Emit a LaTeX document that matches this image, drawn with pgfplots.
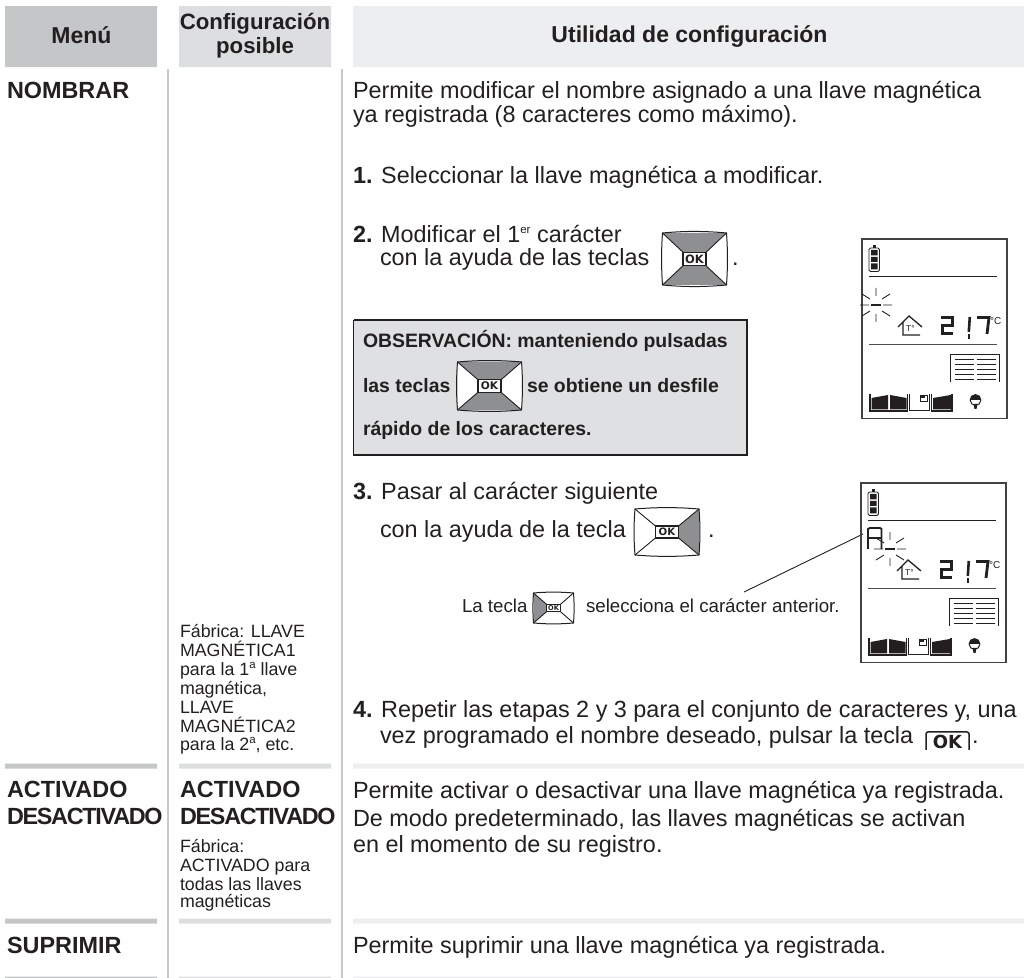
\documentclass[border=0pt]{standalone}
\usepackage{pgfplots}
\pgfplotsset{compat=1.18}
\usepackage{fontspec}
\setmainfont{Liberation Sans}
\newfontfamily\okf{DejaVu Sans}
\newfontfamily\tightf[LetterSpace=-5.5]{Liberation Sans}
\definecolor{ink}{HTML}{231F20}
\definecolor{hA}{HTML}{C4C6C8}
\definecolor{hB}{HTML}{DCDEE0}
\definecolor{hC}{HTML}{EDEEEF}
\definecolor{vl}{HTML}{C8C9CA}
\definecolor{boxg}{HTML}{DFE0E2}
\definecolor{kg}{HTML}{8D8F91}
\newcommand\TL[3]{\node[anchor=base west,inner sep=0pt,outer sep=0pt,text=ink] at (axis cs:#1,#2) {#3};}
\newcommand\TC[3]{\node[anchor=base,inner sep=0pt,outer sep=0pt,text=ink] at (axis cs:#1,#2) {#3};}
\newcommand\Rect[5]{\addplot[draw=none,fill=#5,forget plot,no markers] coordinates {(#1,#2) (#3,#2) (#3,#4) (#1,#4) (#1,#2)};}
\newcommand\Body{\fontsize{23.4}{26}\selectfont}
\newcommand\Bold{\fontsize{23.4}{26}\selectfont\bfseries}
\newcommand\BoldT{\tightf\fontsize{23.4}{26}\selectfont\bfseries}
\newcommand\Hd{\fontsize{22.2}{24}\selectfont\bfseries}
\newcommand\HdU{\fontsize{23}{24}\selectfont\bfseries}
\newcommand\Sm{\fontsize{17.8}{20}\selectfont}
\newcommand\Ob{\fontsize{19.4}{20}\selectfont\bfseries}
\newcommand\Note{\fontsize{18.7}{20}\selectfont}
\newcommand\Sup[1]{\raisebox{0.36em}{\fontsize{11.5}{12}\selectfont #1}}
\newcommand\Key[5]{%
\begin{scope}[shift={(#1pt,{(978-#2)*1pt})},yscale=-1,x=1pt,y=1pt,line join=round]
 \pgfmathsetmacro\hw{#3}\pgfmathsetmacro\hh{#4}
 \pgfmathsetmacro\bw{\hw*0.36}\pgfmathsetmacro\bh{\hh*0.26}
 \pgfmathsetmacro\fs{\bh*1.7}
 \fill[white] (-\hw,-\hh) rectangle (\hw,\hh);
 #5
 \draw[ink,line width=1pt] (-\hw,-\hh) .. controls (-\hw*.3,-\hh*1.08) and (\hw*.3,-\hh*1.08) .. (\hw,-\hh)
   .. controls (\hw*1.04,-\hh*.3) and (\hw*1.04,\hh*.3) .. (\hw,\hh)
   .. controls (\hw*.3,\hh*1.08) and (-\hw*.3,\hh*1.08) .. (-\hw,\hh)
   .. controls (-\hw*1.04,\hh*.3) and (-\hw*1.04,-\hh*.3) .. cycle;
 \draw[ink,line width=.9pt] (-\hw,-\hh)--(-\bw,-\bh) (\hw,-\hh)--(\bw,-\bh) (-\hw,\hh)--(-\bw,\bh) (\hw,\hh)--(\bw,\bh);
 \fill[white,draw=ink,line width=1.1pt] (-\bw,-\bh) rectangle (\bw,\bh);
 \node[inner sep=0,text=ink] at (0,0) {\okf\fontsize{\fs}{\fs}\selectfont\bfseries OK};
\end{scope}}
\newcommand\WedgeUD{\fill[kg] (-\hw,-\hh)--(\hw,-\hh)--(\bw,-\bh)--(-\bw,-\bh)--cycle (-\hw,\hh)--(\hw,\hh)--(\bw,\bh)--(-\bw,\bh)--cycle;}
\newcommand\WedgeR{\fill[kg] (\hw,-\hh)--(\hw,\hh)--(\bw,\bh)--(\bw,-\bh)--cycle;}
\newcommand\WedgeL{\fill[kg] (-\hw,-\hh)--(-\hw,\hh)--(-\bw,\bh)--(-\bw,-\bh)--cycle;}
\newcommand\LCD[3]{%
\begin{scope}[shift={(#1pt,{(978-#2)*1pt})},yscale=-1,x=1pt,y=1pt,line join=miter]
 \draw[ink!85,line width=1.3pt] (0,0) rectangle (145,179.5);
 \draw[ink,line width=.8pt,rounded corners=1.5pt] (7,9) rectangle (17.5,32.5);
 \fill[ink] (9,11) rectangle (15.5,16.5) (9,18) rectangle (15.5,23) (9,24.5) rectangle (15.5,30.5);
 \fill[ink] (11,6) rectangle (13.5,9);
 \draw[ink,line width=.9pt] (7,37.5)--(135,37.5);
 \draw[ink!80,line width=.9pt] (7,105)--(135,105);
 \draw[ink,line width=1.3pt] (36,88)--(47,77)--(60,88) (41,83)--(41,96)--(58,96);
 \node[inner sep=0,text=ink] at (48.5,90) {\fontsize{8.5}{8.5}\selectfont T°};
 \draw[ink,line width=3pt] (79,78.5)--(90,78.5)--(90,86.5)--(80.5,86.5)--(80.5,94.5)--(91,94.5);
 \draw[ink,line width=2.6pt] (107.8,78)--(106.8,93);
 \fill[ink] (105.5,95.5) rectangle (108,100);
 \draw[ink,line width=2.8pt] (115,78.5)--(127,78.5)--(125,95);
 \node[anchor=west,inner sep=0,text=ink] at (128,82) {\fontsize{10}{10}\selectfont °C};
 \draw[ink,line width=1.5pt] (88.5,143)--(88.5,115.5)--(137.5,115.5)--(137.5,143);
 \foreach \yy in {121,126,131,136,141}{\draw[ink,line width=1pt] (92.5,\yy)--(112,\yy) (114.5,\yy)--(134,\yy);}
 \draw[ink,line width=1.2pt] (8,155)--(8,172)--(45.5,172)--(45.5,155);
 \fill[ink] (9.5,159)--(26,156)--(26,170.5)--(9.5,170.5)--cycle (28,156)--(44.5,159)--(44.5,170.5)--(28,170.5)--cycle;
 \draw[ink,line width=1pt] (47.5,155)--(47.5,172)--(67.5,172)--(67.5,155);
 \draw[ink,line width=.7pt] (58,156.5) rectangle (65,162);
 \fill[ink] (59,157) rectangle (63,159.5);
 \draw[ink,line width=1.2pt] (69.5,155)--(69.5,172)--(90,172)--(90,155);
 \fill[ink] (71,159)--(89,156)--(89,170.5)--(71,170.5)--cycle;
 \draw[ink,line width=1pt,fill=white] (113.5,161) circle (5.4);
 \fill[ink] (108.1,161) arc (180:360:5.4) -- cycle;
 \fill[ink] (111.5,165)--(115.5,165)--(114.5,170)--(112.5,170)--cycle;
 #3
\end{scope}}
\newcommand\Flash[2]{%
 \draw[ink,line width=2.4pt] (#1-5,#2)--(#1+5,#2);
 \draw[ink,line width=.9pt] (#1-16,#2)--(#1-7,#2) (#1+7,#2)--(#1+16,#2)
   (#1,#2-17)--(#1,#2-9) (#1,#2+9)--(#1,#2+17)
   (#1-14,#2-11)--(#1-6,#2-6) (#1+14,#2-11)--(#1+6,#2-6)
   (#1-14,#2+11)--(#1-6,#2+6) (#1+14,#2+11)--(#1+6,#2+6);}
\begin{document}
\begin{tikzpicture}
\useasboundingbox (0,0) rectangle (1029pt,978pt);
\begin{axis}[at={(0,0)},anchor=south west,scale only axis,width=1029pt,height=978pt,
  xmin=0,xmax=1029,ymin=0,ymax=978,y dir=reverse,hide axis,clip=false]
\Rect{5}{6}{157}{67}{hA}
\Rect{179}{6}{331}{67}{hB}
\Rect{353}{6}{1024}{67}{hC}
\Rect{5}{763.5}{157}{768.5}{hA}
\Rect{179}{763.5}{331}{768.5}{hB}
\Rect{353}{763.5}{1024}{768.5}{hC}
\Rect{5}{918.5}{157}{923.5}{hA}
\Rect{179}{918.5}{331}{923.5}{hB}
\Rect{353}{918.5}{1024}{923.5}{hC}
\Rect{5}{976.5}{157}{978}{hA}
\Rect{179}{976.5}{331}{978}{hB}
\Rect{353}{976.5}{1024}{978}{hC}
\addplot[vl,line width=1.4pt,forget plot,no markers] coordinates {(168,69) (168,978)};
\addplot[vl,line width=1.4pt,forget plot,no markers] coordinates {(342,69) (342,978)};
\addplot[draw=ink,line width=1.6pt,fill=boxg,forget plot,no markers] coordinates {(353.5,320) (747,320) (747,455) (353.5,455) (353.5,320)};
\addplot[ink,line width=.9pt,forget plot,no markers] coordinates {(744,592) (863,534)};
\TC{81.5}{43}{\HdU Menú}
\TC{255}{29}{\Hd Configuración}
\TC{255}{53}{\Hd posible}
\TC{689.5}{42}{\HdU Utilidad de configuración}
\TL{7}{98}{\Bold NOMBRAR}
\TL{7}{797}{\Bold ACTIVADO}
\TL{7}{824}{\BoldT DESACTIVADO}
\TL{7}{953}{\Bold SUPRIMIR}
\TL{180}{637}{\Sm Fábrica: LLAVE}
\TL{180}{656}{\Sm MAGNÉTICA1}
\TL{180}{675}{\Sm para la 1\Sup{a} llave}
\TL{180}{694}{\Sm magnética,}
\TL{180}{713}{\Sm LLAVE}
\TL{180}{732}{\Sm MAGNÉTICA2}
\TL{180}{750}{\Sm para la 2\Sup{a}, etc.}
\TL{180}{797}{\Bold ACTIVADO}
\TL{180}{824}{\BoldT DESACTIVADO}
\TL{180}{852}{\Sm Fábrica:}
\TL{180}{871}{\Sm ACTIVADO para}
\TL{180}{890}{\Sm todas las llaves}
\TL{180}{907}{\Sm magnéticas}
\TL{353}{98}{\Body Permite modificar el nombre asignado a una llave magnética}
\TL{353}{122}{\Body ya registrada (8 caracteres como máximo).}
\TL{353}{183}{\Body\textbf{1.} Seleccionar la llave magnética a modificar.}
\TL{353}{242}{\Body\textbf{2.} Modificar el 1\Sup{er} carácter}
\TL{380}{265}{\Body con la ayuda de las teclas}
\TL{732}{265}{\Body .}
\TL{363}{347}{\Ob OBSERVACIÓN: manteniendo pulsadas}
\TL{363}{392}{\Ob las teclas}
\TL{527}{392}{\Ob se obtiene un desfile}
\TL{363}{435}{\Ob rápido de los caracteres.}
\TL{353}{499}{\Body\textbf{3.} Pasar al carácter siguiente}
\TL{380}{537}{\Body con la ayuda de la tecla}
\TL{708}{537}{\Body .}
\TL{462}{612}{\Note La tecla}
\TL{586}{612}{\Note selecciona el carácter anterior.}
\TL{353}{717}{\Body\textbf{4.} Repetir las etapas 2 y 3 para el conjunto de caracteres y, una}
\TL{380}{743}{\Body vez programado el nombre deseado, pulsar la tecla}
\TL{972}{743}{\Body .}
\TL{353}{798}{\Body Permite activar o desactivar una llave magnética ya registrada.}
\TL{353}{826}{\Body De modo predeterminado, las llaves magnéticas se activan}
\TL{353}{852}{\Body en el momento de su registro.}
\TL{353}{953}{\Body Permite suprimir una llave magnética ya registrada.}
\end{axis}
\Key{694.5}{259}{32}{26}{\WedgeUD}
\Key{489.5}{386}{32}{24}{\WedgeUD}
\Key{667}{532}{32}{23}{\WedgeR}
\Key{553.5}{608}{20}{15}{\WedgeL}
\LCD{862}{239}{\Flash{14}{66}}
\LCD{861}{483}{\Flash{29}{66}\draw[ink,line width=1.8pt] (7,66)--(7,46)--(9,45)--(19,45)--(20.5,46)--(20.5,66) (7,55)--(20.5,55);}
\begin{scope}[shift={(925pt,{(978-748)*1pt})},yscale=-1,x=1pt,y=1pt]
\draw[ink,line width=1.5pt,rounded corners=2pt] (1,2)--(1,-16)--(44,-16)--(44,2);
\node[inner sep=0,text=ink] at (22.5,-6.5) {\okf\fontsize{18}{18}\selectfont\bfseries OK};
\end{scope}
\end{tikzpicture}
\end{document}
